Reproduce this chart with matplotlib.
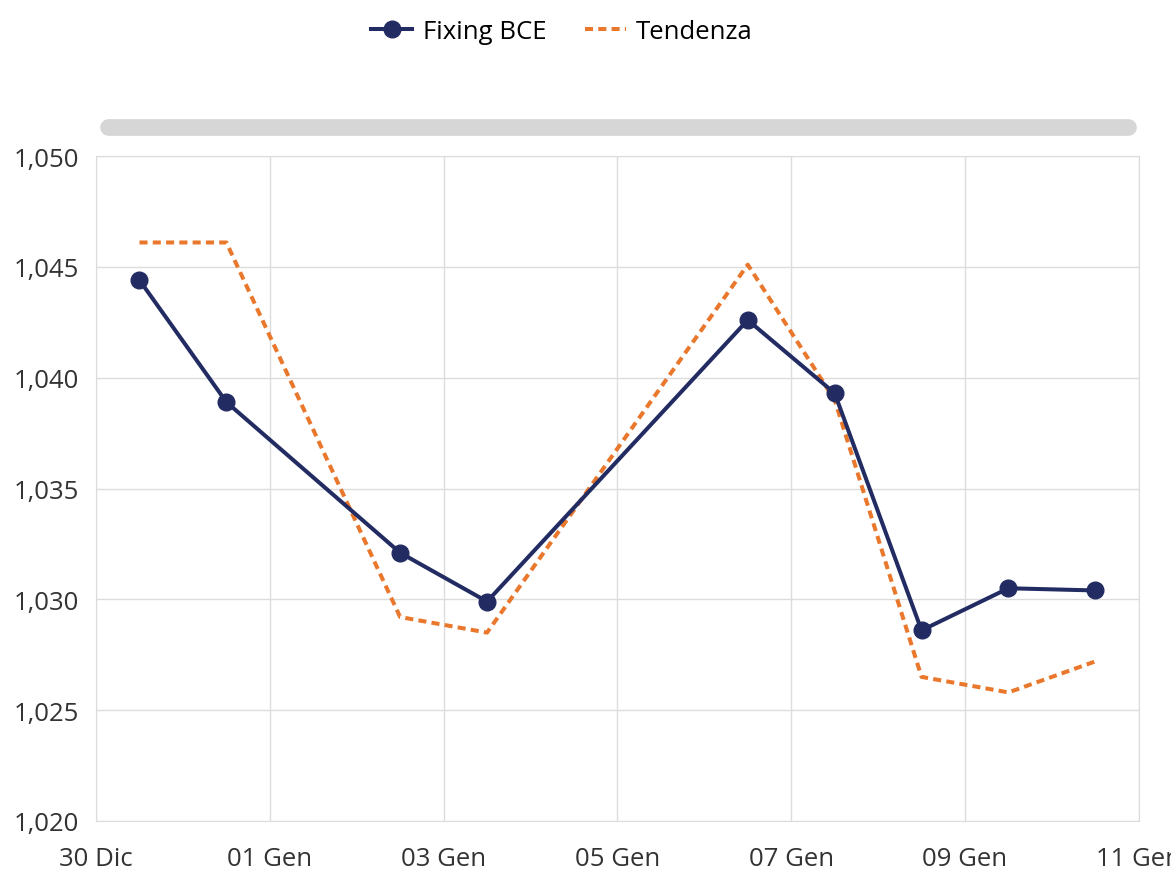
import matplotlib.pyplot as plt
import matplotlib.dates as mdates
from matplotlib.lines import Line2D
import pandas as pd

plt.rcParams['font.family'] = ['Open Sans', 'DejaVu Sans']

# Dati (cambio EUR/USD, fixing BCE)
date = ["2024-12-30 12:00", "2024-12-31 12:00", "2025-01-02 12:00", "2025-01-03 12:00",
        "2025-01-06 12:00", "2025-01-07 12:00", "2025-01-08 12:00", "2025-01-09 12:00",
        "2025-01-10 12:00"]
fixing = [1.0444, 1.0389, 1.0321, 1.0299, 1.0426, 1.0393, 1.0286, 1.0305, 1.0304]
tendenza = [1.0461, 1.0461, 1.0292, 1.0285, 1.0451, 1.0390, 1.0265, 1.0258, 1.0272]

mesi = {12: "Dic", 1: "Gen"}
y_ticks = [1.020, 1.025, 1.030, 1.035, 1.040, 1.045, 1.050]

x = pd.to_datetime(date)

navy = '#222c62'
orange = '#e9772c'

fig = plt.figure(figsize=(11.71, 8.70), dpi=100)
ax = fig.add_axes([0.082, 0.0552, 0.8905, 0.7643])

ax.plot(x, tendenza, color=orange, lw=2.9, dashes=(2.0, 1.3), label='Tendenza', zorder=3)
ax.plot(x, fixing, color=navy, lw=2.9, marker='o', ms=12, label='Fixing BCE', zorder=4)

ax.set_xlim(pd.Timestamp("2024-12-30"), pd.Timestamp("2025-01-11"))
ax.set_ylim(1.020, 1.050)
ax.set_yticks(y_ticks)
ax.yaxis.set_major_formatter(plt.FuncFormatter(lambda v, p: f"{v:.3f}".replace('.', ',')))
ax.xaxis.set_major_locator(mdates.DayLocator(bymonthday=[30, 1, 3, 5, 7, 9, 11]))
ax.xaxis.set_major_formatter(plt.FuncFormatter(
    lambda v, p: f"{mdates.num2date(v).day:02d} {mesi[mdates.num2date(v).month]}"))

ax.grid(True, color='#dcdcdc', lw=1)
for s in ax.spines.values():
    s.set_color('#dcdcdc')
ax.tick_params(length=0, labelsize=18.5, colors='#333333')
ax.tick_params(axis='y', pad=12)
ax.tick_params(axis='x', pad=18)

# barra grigia sopra il grafico
fig.add_artist(Line2D([0.092, 0.963], [0.853, 0.853], transform=fig.transFigure,
                      color='#d6d6d6', lw=12, solid_capstyle='round'))

h, l = ax.get_legend_handles_labels()
fig.legend(h[::-1], l[::-1], loc='center', bbox_to_anchor=(0.48, 0.963), ncol=2,
           frameon=False, fontsize=18.5, handlelength=1.6, columnspacing=1.5,
           handletextpad=0.4)

fig.savefig('out.png', dpi=100)
